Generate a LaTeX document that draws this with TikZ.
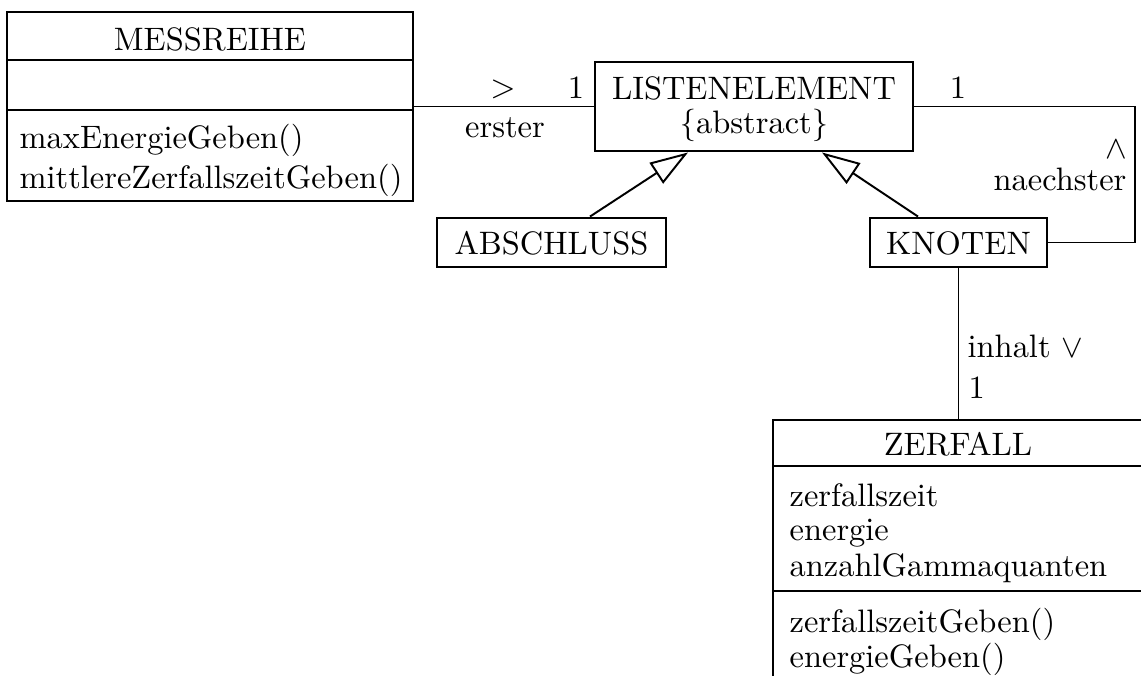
\documentclass[tikz,border=0pt]{standalone}
\usetikzlibrary{fit,calc,arrows.meta}
\begin{document}
\begin{tikzpicture}[x=0.3082pt,y=-0.3082pt,
  cls/.style={draw,line width=0.9pt,inner sep=0pt},
  conn/.style={line width=0.6pt},
  gen/.style={line width=0.6pt,-{Triangle[open,length=11.7pt,width=7.6pt,line width=0.6pt]}},
  txt/.style={inner sep=0pt,anchor=base},
  ltxt/.style={inner sep=0pt,anchor=base west},
  sep/.style={line width=0.9pt}]
\useasboundingbox (0,0) rectangle (1141,675);
\clip (0,0) rectangle (1141,675);
% MESSREIHE
\node[cls,fit={(7,12) (413,201)}] (mess) {};
\draw[sep] (7,60) -- (413,60);
\draw[sep] (7,110) -- (413,110);
\node[txt] (messt) at (210,50) {MESSREIHE};
\node[ltxt] (messm1) at (19,148) {maxEnergieGeben()};
\node[ltxt] (messm2) at (19,188) {mittlereZerfallszeitGeben()};
% LISTENELEMENT
\node[cls,fit={(595,62) (913,151)}] (liste) {};
\node[txt] (listet) at (754,99) {LISTENELEMENT};
\node[txt] (listea) at (754,133) {\{abstract\}};
% ABSCHLUSS, KNOTEN
\node[cls,fit={(437,218) (666,267)}] (absch) {};
\node[txt] (abscht) at (551.5,254) {ABSCHLUSS};
\node[cls,fit={(870,218) (1047,267)}] (knoten) {};
\node[txt] (knotent) at (958.5,254) {KNOTEN};
% ZERFALL
\node[cls,fit={(773,420) (1160,720)}] (zerf) {};
\draw[sep] (773,466) -- (1160,466);
\draw[sep] (773,591) -- (1160,591);
\node[txt] (zerft) at (958,455) {ZERFALL};
\node[ltxt] (za1) at (789,506) {zerfallszeit};
\node[ltxt] (za2) at (789,540) {energie};
\node[ltxt] (za3) at (789,576) {anzahlGammaquanten};
\node[ltxt] (zm1) at (789,632) {zerfallszeitGeben()};
\node[ltxt] (zm2) at (789,667) {energieGeben()};
% connectors
\draw[conn] (mess.east) -- (liste.west);
\node[txt] (l1) at (503,97) {$>$};
\node[txt] (l2) at (576,98) {1};
\node[txt] (l3) at (505,137) {erster};
\draw[conn] (liste.east) -- (1135,106.5) |- (knoten.east);
\node[txt] (l4) at (958,98) {1};
\node[txt] (l5) at (1116,158) {$\wedge$};
\node[txt] (l6) at (1060,190) {naechster};
\draw[gen] ($(absch.north)+(38.5,0)$) -- ($(liste.south)+(-66,0)$);
\draw[gen] ($(knoten.north)+(-40.5,0)$) -- ($(liste.south)+(68,0)$);
\draw[conn] (knoten.south) -- (knoten.south |- zerf.north);
\node[ltxt] (l7) at (967,357) {inhalt $\vee$};
\node[ltxt] (l8) at (968,398) {1};
\end{tikzpicture}
\end{document}
